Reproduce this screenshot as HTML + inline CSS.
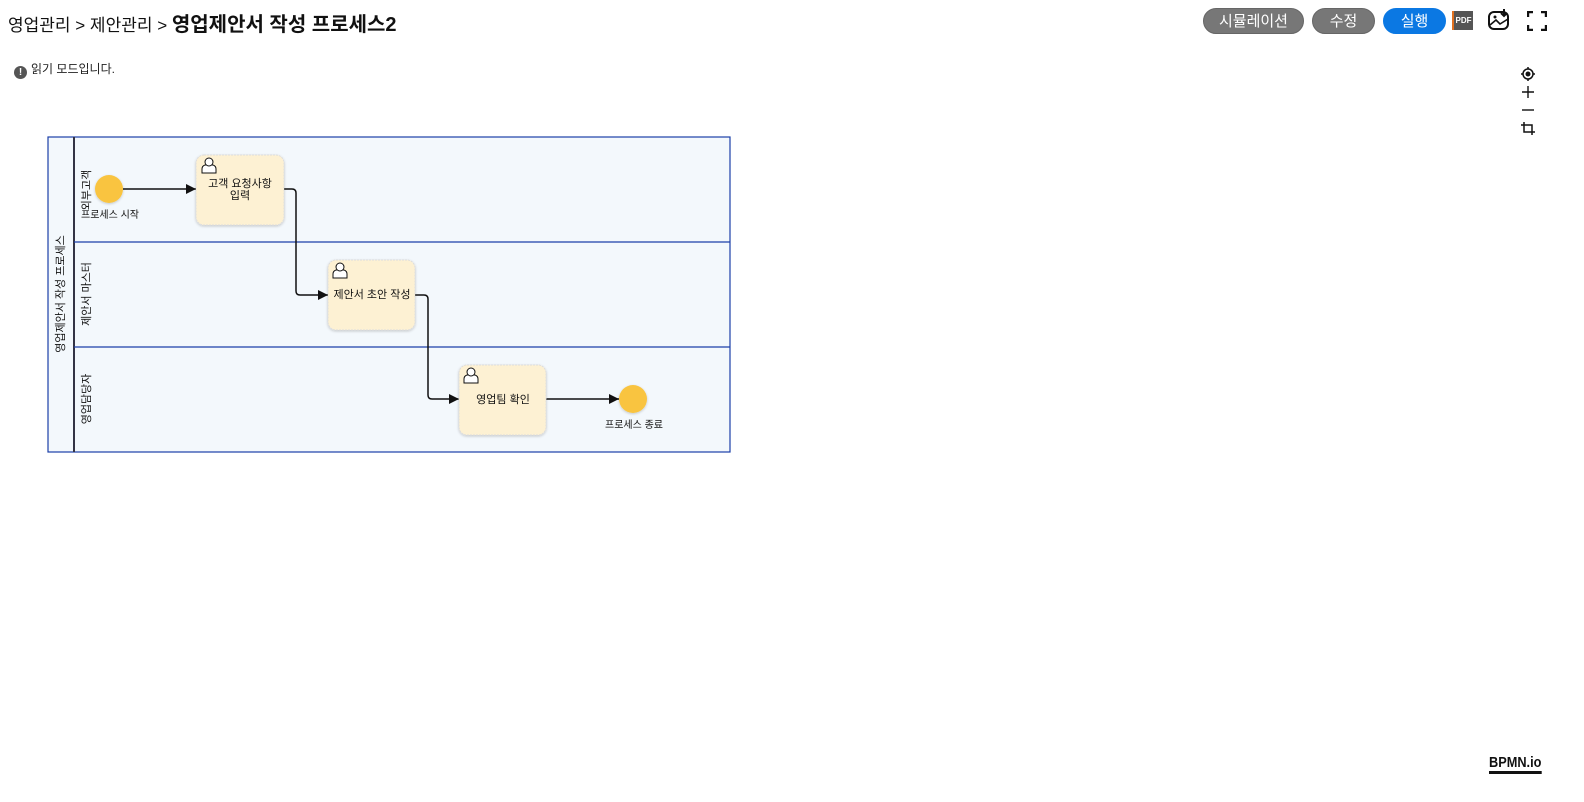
<!DOCTYPE html>
<html><head><meta charset="utf-8">
<style>
body{margin:0;width:1584px;height:802px;background:#fff;font-family:"Liberation Sans","Noto Sans CJK KR",sans-serif;position:relative;overflow:hidden}
.crumb{position:absolute;top:8px;left:8px;font-size:17px;color:#111;white-space:nowrap}
.crumb b{font-size:20px}
.btn{position:absolute;top:8px;height:26px;border-radius:13px;color:#fff;font-size:15px;text-align:center;line-height:26px;border:1px solid #666;box-sizing:border-box}
.info{position:absolute;top:60px;left:14px;font-size:12px;color:#222}
.info span.i{display:inline-block;width:13px;height:13px;border-radius:50%;background:#555;color:#fff;font-size:10px;text-align:center;line-height:13px;font-weight:bold;margin-right:4px;vertical-align:-2px}
</style></head><body>
<div class="crumb">영업관리 &gt; 제안관리 &gt; <b>영업제안서 작성 프로세스2</b></div>
<div class="btn" style="left:1203px;width:101px;background:#777">시뮬레이션</div>
<div class="btn" style="left:1312px;width:63px;background:#777">수정</div>
<div class="btn" style="left:1383px;width:63px;background:#0b78e3;border-color:#0b78e3">실행</div>
<div style="position:absolute;left:1452px;top:11px;width:19px;height:19px;background:#555;border-left:2px solid #e07020;color:#fff;font-size:8px;font-weight:bold;line-height:19px;text-align:center">PDF</div>
<svg style="position:absolute;left:1487px;top:8px" width="24" height="24"><rect x="2" y="4" width="19" height="17" rx="5" fill="none" stroke="#111" stroke-width="2"/><path d="M3 17 L9 12 L13 16 L21 11" fill="none" stroke="#111" stroke-width="1.6"/><circle cx="8" cy="9" r="1.5" fill="#111"/><path d="M17 1 V8 M14 5 L17 8 L20 5" stroke="#111" stroke-width="2" fill="none"/></svg>
<svg style="position:absolute;left:1527px;top:11px" width="20" height="20"><path d="M1 6V1H6M14 1H19V6M19 14V19H14M6 19H1V14" fill="none" stroke="#111" stroke-width="2.4"/></svg>
<div class="info"><span class="i">!</span>읽기 모드입니다.</div>
<svg style="position:absolute;left:1516px;top:64px" width="24" height="76"><circle cx="12" cy="10" r="5" fill="none" stroke="#111" stroke-width="1.5"/><circle cx="12" cy="10" r="2.5" fill="#111"/><path d="M12 3V5M12 15V17M5 10H7M17 10H19" stroke="#111" stroke-width="1.5"/><path d="M6 28H18M12 22V34" stroke="#111" stroke-width="1.4"/><path d="M6 46H18" stroke="#111" stroke-width="1.4"/><path d="M8 58V68H19M5 61H16V71" fill="none" stroke="#111" stroke-width="1.5"/></svg>
<svg style="position:absolute;left:0;top:0" width="1584" height="802">
<defs><marker id="ar" markerWidth="10" markerHeight="10" refX="10" refY="5" orient="auto" markerUnits="userSpaceOnUse"><path d="M0 0L10 5L0 10Z" fill="#111"/></marker>
<filter id="sh"><feDropShadow dx="0" dy="1" stdDeviation="1.2" flood-color="#000" flood-opacity="0.2"/></filter></defs>
<g>
<rect x="48" y="137" width="682" height="315" fill="#f3f8fc" stroke="#1b3fa8" stroke-width="1.2"/>
<line x1="74" y1="137" x2="74" y2="452" stroke="#334" stroke-width="2"/>
<line x1="74" y1="242" x2="730" y2="242" stroke="#1b3fa8" stroke-width="1.2"/>
<line x1="74" y1="347" x2="730" y2="347" stroke="#1b3fa8" stroke-width="1.2"/>
<text transform="translate(64,294) rotate(-90)" text-anchor="middle" font-size="11" fill="#111">영업제안서 작성 프로세스</text>
<text transform="translate(90,190) rotate(-90)" text-anchor="middle" font-size="11" fill="#111">외부고객</text>
<text transform="translate(90,294) rotate(-90)" text-anchor="middle" font-size="11" fill="#111">제안서 마스터</text>
<text transform="translate(90,399) rotate(-90)" text-anchor="middle" font-size="11" fill="#111">영업담당자</text>
</g>
<g fill="none" stroke="#111" stroke-width="1.5">
<path d="M123 189H196" marker-end="url(#ar)"/>
<path d="M284 189H292Q296 189 296 193V291Q296 295 300 295H328" marker-end="url(#ar)"/>
<path d="M415 295H424Q428 295 428 299V395Q428 399 432 399H459" marker-end="url(#ar)"/>
<path d="M546 399H619" marker-end="url(#ar)"/>
</g>
<g><circle cx="109" cy="189" r="14" fill="#f9c440" filter="url(#sh)"/><text x="110" y="218" text-anchor="middle" font-size="10" fill="#111">프로세스 시작</text></g>
<g><circle cx="633" cy="399" r="14" fill="#f9c440" filter="url(#sh)"/><text x="634" y="428" text-anchor="middle" font-size="10" fill="#111">프로세스 종료</text></g>
<g font-size="11" fill="#111" text-anchor="middle">
<g><rect x="196" y="155" width="88" height="70" rx="8" fill="#fdf1d3" stroke="#ddd" stroke-dasharray="2 1" filter="url(#sh)"/><text x="240" y="187">고객 요청사항</text><text x="240" y="199">입력</text></g>
<g><rect x="328" y="260" width="87" height="70" rx="8" fill="#fdf1d3" stroke="#ddd" stroke-dasharray="2 1" filter="url(#sh)"/><text x="372" y="298">제안서 초안 작성</text></g>
<g><rect x="459" y="365" width="87" height="70" rx="8" fill="#fdf1d3" stroke="#ddd" stroke-dasharray="2 1" filter="url(#sh)"/><text x="503" y="403">영업팀 확인</text></g>
</g>
<g fill="#fff" stroke="#111" stroke-width="1">
<g transform="translate(201,157)"><path d="M1 16V12Q1 9 4 8H12Q15 9 15 12V16Z"/><circle cx="8" cy="5" r="4"/></g>
<g transform="translate(332,262)"><path d="M1 16V12Q1 9 4 8H12Q15 9 15 12V16Z"/><circle cx="8" cy="5" r="4"/></g>
<g transform="translate(463,367)"><path d="M1 16V12Q1 9 4 8H12Q15 9 15 12V16Z"/><circle cx="8" cy="5" r="4"/></g>
</g>
</svg>
<div style="position:absolute;left:1489px;top:754px;font-size:15px;font-weight:bold;color:#111;border-bottom:3px solid #111;line-height:17px;transform:scaleX(0.85);transform-origin:left">BPMN.io</div>
</body></html>
